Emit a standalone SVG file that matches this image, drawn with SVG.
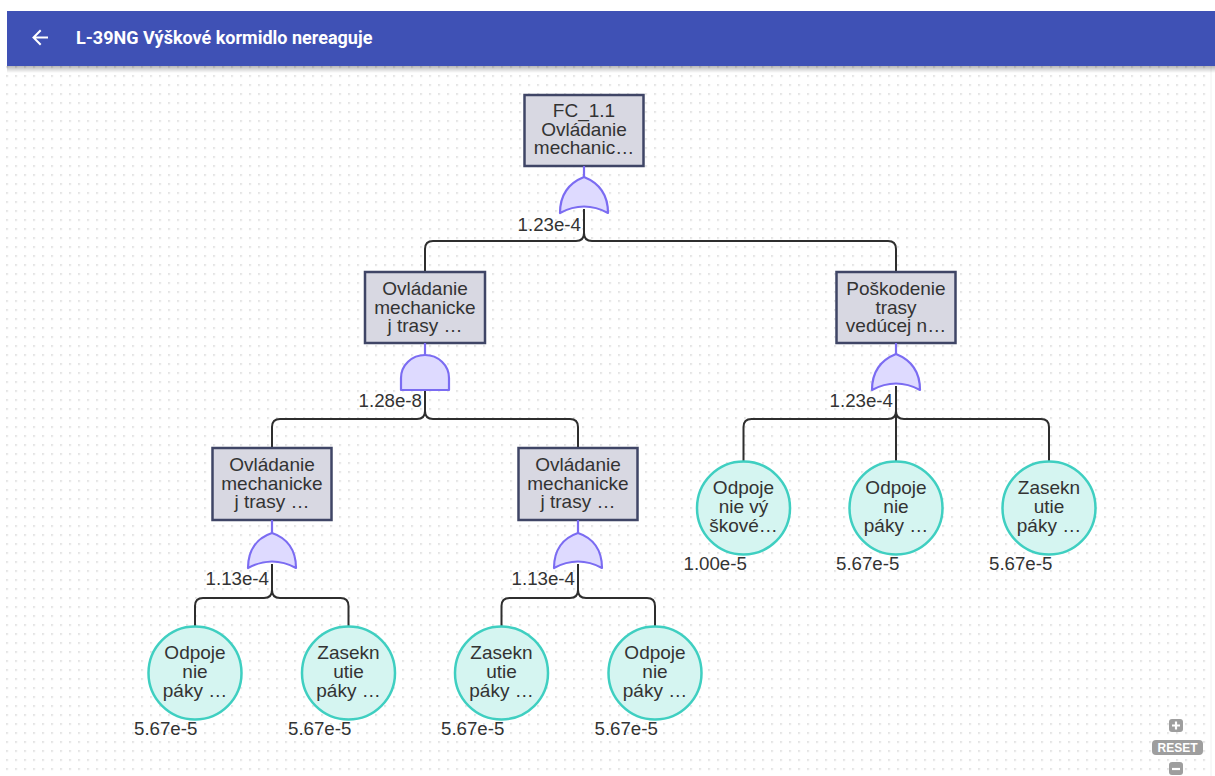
<svg xmlns="http://www.w3.org/2000/svg" width="1215" height="776" viewBox="0 0 1215 776">
  <defs>
    <pattern id="dots" x="6.3" y="3.3" width="9" height="9" patternUnits="userSpaceOnUse">
      <rect x="0" y="0" width="1.4" height="1.4" fill="#c6c6c6"/>
    </pattern>
    <linearGradient id="barShadow" x1="0" y1="0" x2="0" y2="1">
      <stop offset="0" stop-color="#000" stop-opacity="0.28"/>
      <stop offset="1" stop-color="#000" stop-opacity="0"/>
    </linearGradient>
    <style>
      .event rect { fill: #d8d8e2; stroke: #3f4566; stroke-width: 2.5; }
      .basic circle { fill: #d5f5f1; stroke: #3fcfc1; stroke-width: 2.5; }
      .gate path { fill: #dedaff; stroke: #7b6cf2; stroke-width: 2.2; stroke-linejoin: round; }
      .stub { stroke: #7b6cf2; stroke-width: 2.2; fill: none; }
      .label { font-family: "Liberation Sans", Arial, sans-serif; font-size: 19px; fill: #333; text-anchor: middle; }
      .prob { font-family: "Liberation Sans", Arial, sans-serif; font-size: 18.7px; fill: #333; }
      #connectors path { fill: none; stroke: #2e2e2e; stroke-width: 2; }
      .ctl { fill: #9e9e9e; }
    </style>
  </defs>

  <!-- canvas -->
  <rect width="1215" height="776" fill="#ffffff"/>
  <rect x="0" y="66" width="1210" height="710" fill="url(#dots)"/>
  <line x1="1211" y1="66" x2="1211" y2="776" stroke="#f0f0f0" stroke-width="1"/>

  <!-- toolbar -->
  <g id="toolbar">
    <rect x="7" y="66" width="1208" height="7" fill="url(#barShadow)"/>
    <rect x="7" y="11" width="1208" height="55" fill="#3f51b5"/>
    <path d="M47,37.5 H34 M40,31 L33.5,37.5 L40,44" fill="none" stroke="#ffffff" stroke-width="2" stroke-linecap="square"/>
    <text x="76" y="44" font-family="Roboto, 'Liberation Sans', sans-serif" font-size="18" font-weight="700" fill="#ffffff">L-39NG Výškové kormidlo nereaguje</text>
  </g>

  <!-- connectors -->
  <g id="connectors">
    <!-- top gate to level 1 -->
    <path d="M584,209 V233 Q584,241 576,241 H433 Q425,241 425,249 V272"/>
    <path d="M584,209 V233 Q584,241 592,241 H888 Q896,241 896,249 V272"/>
    <!-- AND gate to level 2 events -->
    <path d="M425,390 V411 Q425,419 417,419 H280 Q272,419 272,427 V448"/>
    <path d="M425,390 V411 Q425,419 433,419 H570 Q578,419 578,427 V448"/>
    <!-- right gate to basic events -->
    <path d="M896,386 V411 Q896,419 888,419 H751.5 Q743.5,419 743.5,427 V461"/>
    <path d="M896,386 V461"/>
    <path d="M896,386 V411 Q896,419 904,419 H1041 Q1049,419 1049,427 V461"/>
    <!-- level 3 gates to basic events -->
    <path d="M272,564 V590 Q272,598 264,598 H203 Q195,598 195,606 V626"/>
    <path d="M272,564 V590 Q272,598 280,598 H340.5 Q348.5,598 348.5,606 V626"/>
    <path d="M578,564 V590 Q578,598 570,598 H509.5 Q501.5,598 501.5,606 V626"/>
    <path d="M578,564 V590 Q578,598 586,598 H647 Q655,598 655,606 V626"/>
  </g>

  <!-- top event -->
  <g id="fc-1-1" class="event">
    <rect x="524.5" y="95" width="119" height="71"/>
    <text class="label" x="584" y="117">FC_1.1</text>
    <text class="label" x="584" y="135.5">Ovládanie</text>
    <text class="label" x="584" y="154">mechanic…</text>
  </g>
  <g id="gate-fc-1-1" class="gate">
    <line class="stub" x1="584" y1="166" x2="584" y2="177"/>
    <path d="M560,213 C560,195 569,183 584,177 C599,183 608,195 608,213 Q584,200 560,213 Z"/>
    <text class="prob" x="581" y="231" text-anchor="end">1.23e-4</text>
  </g>

  <!-- level 1 -->
  <g id="ovladanie-a" class="event">
    <rect x="365" y="272" width="120" height="71"/>
    <text class="label" x="425" y="295">Ovládanie</text>
    <text class="label" x="425" y="313.5">mechanicke</text>
    <text class="label" x="425" y="332">j trasy …</text>
  </g>
  <g id="gate-ovladanie-a" class="gate">
    <line class="stub" x1="425" y1="343" x2="425" y2="355"/>
    <path d="M401,390 V378 A24,23 0 0 1 449,378 V390 Z"/>
    <text class="prob" x="422" y="407" text-anchor="end">1.28e-8</text>
  </g>

  <g id="poskodenie" class="event">
    <rect x="836.5" y="272" width="119" height="71"/>
    <text class="label" x="896" y="295">Poškodenie</text>
    <text class="label" x="896" y="313.5">trasy</text>
    <text class="label" x="896" y="332">vedúcej n…</text>
  </g>
  <g id="gate-poskodenie" class="gate">
    <line class="stub" x1="896" y1="343" x2="896" y2="354"/>
    <path d="M872,390 C872,372 881,360 896,354 C911,360 920,372 920,390 Q896,377 872,390 Z"/>
    <text class="prob" x="893" y="407" text-anchor="end">1.23e-4</text>
  </g>

  <!-- level 2 events -->
  <g id="ovladanie-b" class="event">
    <rect x="212.5" y="448" width="119" height="72"/>
    <text class="label" x="272" y="471">Ovládanie</text>
    <text class="label" x="272" y="489.5">mechanicke</text>
    <text class="label" x="272" y="508">j trasy …</text>
  </g>
  <g id="gate-ovladanie-b" class="gate">
    <line class="stub" x1="272" y1="520" x2="272" y2="533"/>
    <path d="M248,568 C248,550 257,538 272,533 C287,538 296,550 296,568 Q272,555 248,568 Z"/>
    <text class="prob" x="269" y="585" text-anchor="end">1.13e-4</text>
  </g>

  <g id="ovladanie-c" class="event">
    <rect x="518.5" y="448" width="119" height="72"/>
    <text class="label" x="578" y="471">Ovládanie</text>
    <text class="label" x="578" y="489.5">mechanicke</text>
    <text class="label" x="578" y="508">j trasy …</text>
  </g>
  <g id="gate-ovladanie-c" class="gate">
    <line class="stub" x1="578" y1="520" x2="578" y2="533"/>
    <path d="M554,568 C554,550 563,538 578,533 C593,538 602,550 602,568 Q578,555 554,568 Z"/>
    <text class="prob" x="575" y="585" text-anchor="end">1.13e-4</text>
  </g>

  <!-- basic events under Poškodenie -->
  <g id="odpojenie-vyskove" class="basic">
    <circle cx="743.5" cy="508" r="46.5"/>
    <text class="label" x="743.5" y="494">Odpoje</text>
    <text class="label" x="743.5" y="513">nie vý</text>
    <text class="label" x="743.5" y="532">škové…</text>
    <text class="prob" x="683.5" y="570">1.00e-5</text>
  </g>
  <g id="odpojenie-paky-1" class="basic">
    <circle cx="896" cy="508" r="46.5"/>
    <text class="label" x="896" y="494">Odpoje</text>
    <text class="label" x="896" y="513">nie</text>
    <text class="label" x="896" y="532">páky …</text>
    <text class="prob" x="836" y="570">5.67e-5</text>
  </g>
  <g id="zaseknutie-paky-1" class="basic">
    <circle cx="1049" cy="508" r="46.5"/>
    <text class="label" x="1049" y="494">Zasekn</text>
    <text class="label" x="1049" y="513">utie</text>
    <text class="label" x="1049" y="532">páky …</text>
    <text class="prob" x="989" y="570">5.67e-5</text>
  </g>

  <!-- basic events, bottom row -->
  <g id="odpojenie-paky-2" class="basic">
    <circle cx="195" cy="673" r="46.5"/>
    <text class="label" x="195" y="659">Odpoje</text>
    <text class="label" x="195" y="678">nie</text>
    <text class="label" x="195" y="697">páky …</text>
    <text class="prob" x="134" y="735">5.67e-5</text>
  </g>
  <g id="zaseknutie-paky-2" class="basic">
    <circle cx="348.5" cy="673" r="46.5"/>
    <text class="label" x="348.5" y="659">Zasekn</text>
    <text class="label" x="348.5" y="678">utie</text>
    <text class="label" x="348.5" y="697">páky …</text>
    <text class="prob" x="288" y="735">5.67e-5</text>
  </g>
  <g id="zaseknutie-paky-3" class="basic">
    <circle cx="501.5" cy="673" r="46.5"/>
    <text class="label" x="501.5" y="659">Zasekn</text>
    <text class="label" x="501.5" y="678">utie</text>
    <text class="label" x="501.5" y="697">páky …</text>
    <text class="prob" x="441" y="735">5.67e-5</text>
  </g>
  <g id="odpojenie-paky-3" class="basic">
    <circle cx="655" cy="673" r="46.5"/>
    <text class="label" x="655" y="659">Odpoje</text>
    <text class="label" x="655" y="678">nie</text>
    <text class="label" x="655" y="697">páky …</text>
    <text class="prob" x="594.5" y="735">5.67e-5</text>
  </g>

  <!-- zoom controls -->
  <g id="zoom-controls">
    <rect class="ctl" x="1169" y="719" width="14" height="13" rx="3"/>
    <path d="M1176,721.5 V729.5 M1172,725.5 H1180" stroke="#ffffff" stroke-width="2.2"/>
    <rect class="ctl" x="1152" y="740" width="51" height="15" rx="4"/>
    <text x="1177.5" y="752" font-family="'Liberation Sans', Arial, sans-serif" font-size="12" font-weight="700" fill="#ffffff" text-anchor="middle">RESET</text>
    <rect class="ctl" x="1169" y="762" width="14" height="13" rx="3"/>
    <path d="M1172,769 H1180" stroke="#ffffff" stroke-width="2.2"/>
  </g>
</svg>
